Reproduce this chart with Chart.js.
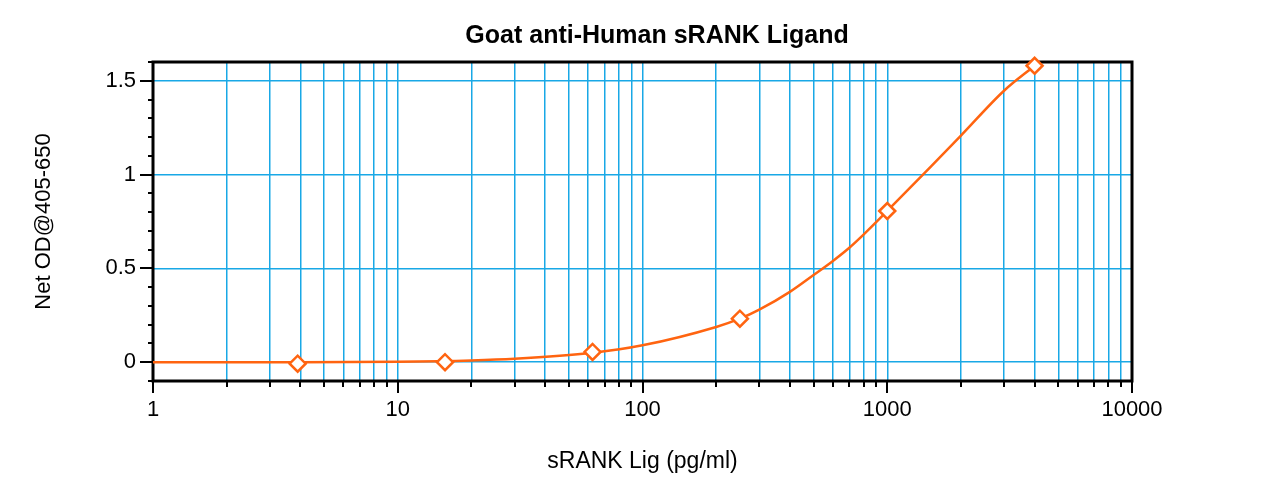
<!DOCTYPE html>
<html>
<head>
<meta charset="utf-8">
<script src="https://cdn.jsdelivr.net/npm/chart.js@4.4.0/dist/chart.umd.min.js"></script>
<style>
  body { margin: 0; background: #fff; }
  canvas { display: block; }
</style>
</head>
<body>
<canvas id="elisa" width="1280" height="480"></canvas>
<script>
// measured standards
const concs = [3.9, 15.6, 62.5, 250, 1000, 4000]
const netOD = [-0.008, 0.0, 0.055, 0.232, 0.806, 1.58]

// fitted curve
const fitX = [1, 4, 10, 20, 30, 62.5, 100, 200, 250, 300, 400, 500, 600, 700, 800, 1000, 1500, 2000, 3000, 4000]
const fitY = [0, 0, 0.002, 0.009, 0.018, 0.05, 0.09, 0.188, 0.232, 0.28, 0.375, 0.465, 0.54, 0.61, 0.68, 0.806, 1.04, 1.208, 1.447, 1.58]

const xTickLabels = [1, 10, 100, 1000, 10000]
const yTickLabels = [0, 0.5, 1, 1.5]

const orange = '#ff6410'
const gridBlue = '#19a8e6'

// 1..9 for every decade (grid + tick marks)
const xTickValues = []
for (let d = 1; d < 10000; d *= 10) {
    for (let m = 1; m < 10; m++) xTickValues.push(m * d)
}
xTickValues.push(10000)

const isYMajor = v => yTickLabels.some(l => Math.abs(l - v) < 1e-6)

Chart.defaults.font.family = "'Liberation Sans', Arial, sans-serif"
Chart.defaults.color = '#000'

// box around the plot and the outside tick marks
const framePlugin = {
    id: 'frame',
    beforeDatasetsDraw(chart) {
        const {ctx, chartArea: a} = chart
        ctx.save()
        ctx.strokeStyle = '#000'
        ctx.lineWidth = 3
        ctx.strokeRect(a.left, a.top, a.right - a.left, a.bottom - a.top)
        ctx.restore()
    },
    afterDraw(chart) {
        const {ctx, chartArea: a, scales: {x, y}} = chart
        ctx.save()
        ctx.strokeStyle = '#000'
        ctx.lineWidth = 2
        ctx.beginPath()
        x.ticks.forEach(t => {
            const px = Math.round(x.getPixelForValue(t.value))
            const len = xTickLabels.includes(t.value) ? 12 : 6
            ctx.moveTo(px, a.bottom)
            ctx.lineTo(px, a.bottom + len)
        })
        y.ticks.forEach(t => {
            const py = Math.round(y.getPixelForValue(t.value))
            const len = isYMajor(t.value) ? 13 : 5
            ctx.moveTo(a.left - len, py)
            ctx.lineTo(a.left, py)
        })
        ctx.stroke()
        ctx.restore()
    }
}

const data = {
    datasets: [
        {
            type: 'scatter',
            label: 'Standards',
            data: concs.map((c, i) => ({x: c, y: netOD[i]})),
            showLine: false,
            pointStyle: 'rectRot',
            pointRadius: 8,
            pointBorderWidth: 2.5,
            borderColor: orange,
            backgroundColor: '#fff',
            clip: 12,
            order: 0
        },
        {
            type: 'line',
            label: 'Fit',
            data: fitX.map((c, i) => ({x: c, y: fitY[i]})),
            borderColor: orange,
            borderWidth: 2.5,
            pointRadius: 0,
            cubicInterpolationMode: 'monotone',
            order: 1
        }
    ]
}

const config = {
    data: data,
    plugins: [framePlugin],
    options: {
        responsive: false,
        animation: false,
        layout: {padding: {left: 34, right: 0, top: 0, bottom: 0}},
        plugins: {
            legend: {display: false},
            tooltip: {enabled: false},
            title: {
                display: true,
                text: 'Goat anti-Human sRANK Ligand',
                font: {size: 25, weight: 'bold'},
                padding: {top: 21, bottom: 11}
            }
        },
        scales: {
            x: {
                type: 'logarithmic',
                position: 'bottom',
                min: 1,
                max: 10000,
                afterBuildTicks: s => { s.ticks = xTickValues.map(v => ({value: v})) },
                afterFit: s => { s.height = 99 },
                ticks: {
                    autoSkip: false,
                    maxRotation: 0,
                    padding: 16,
                    font: {size: 22},
                    callback: v => xTickLabels.includes(v) ? String(v) : ''
                },
                grid: {color: gridBlue, lineWidth: 1.5, drawTicks: false},
                border: {display: false},
                title: {
                    display: true,
                    text: 'sRANK Lig (pg/ml)',
                    font: {size: 23},
                    padding: {top: 0, bottom: 5}
                }
            },
            y: {
                type: 'linear',
                position: 'left',
                min: -0.1,
                max: 1.6,
                afterFit: s => { s.width = 119 },
                ticks: {
                    stepSize: 0.1,
                    autoSkip: false,
                    padding: 17,
                    font: {size: 22},
                    callback: v => isYMajor(v) ? String(Math.round(v * 10) / 10) : ''
                },
                grid: {
                    color: c => isYMajor(c.tick.value) ? gridBlue : 'transparent',
                    lineWidth: 1.5,
                    drawTicks: false
                },
                border: {display: false},
                title: {
                    display: true,
                    text: 'Net OD@405-650',
                    font: {size: 22},
                    padding: {top: -3, bottom: 0}
                }
            },
            // empty right-hand gutter
            yRight: {
                type: 'linear',
                position: 'right',
                grid: {display: false},
                ticks: {display: false},
                border: {display: false},
                afterFit: s => { s.width = 148 }
            }
        }
    }
}

new Chart(document.getElementById('elisa'), config)
</script>
</body>
</html>
